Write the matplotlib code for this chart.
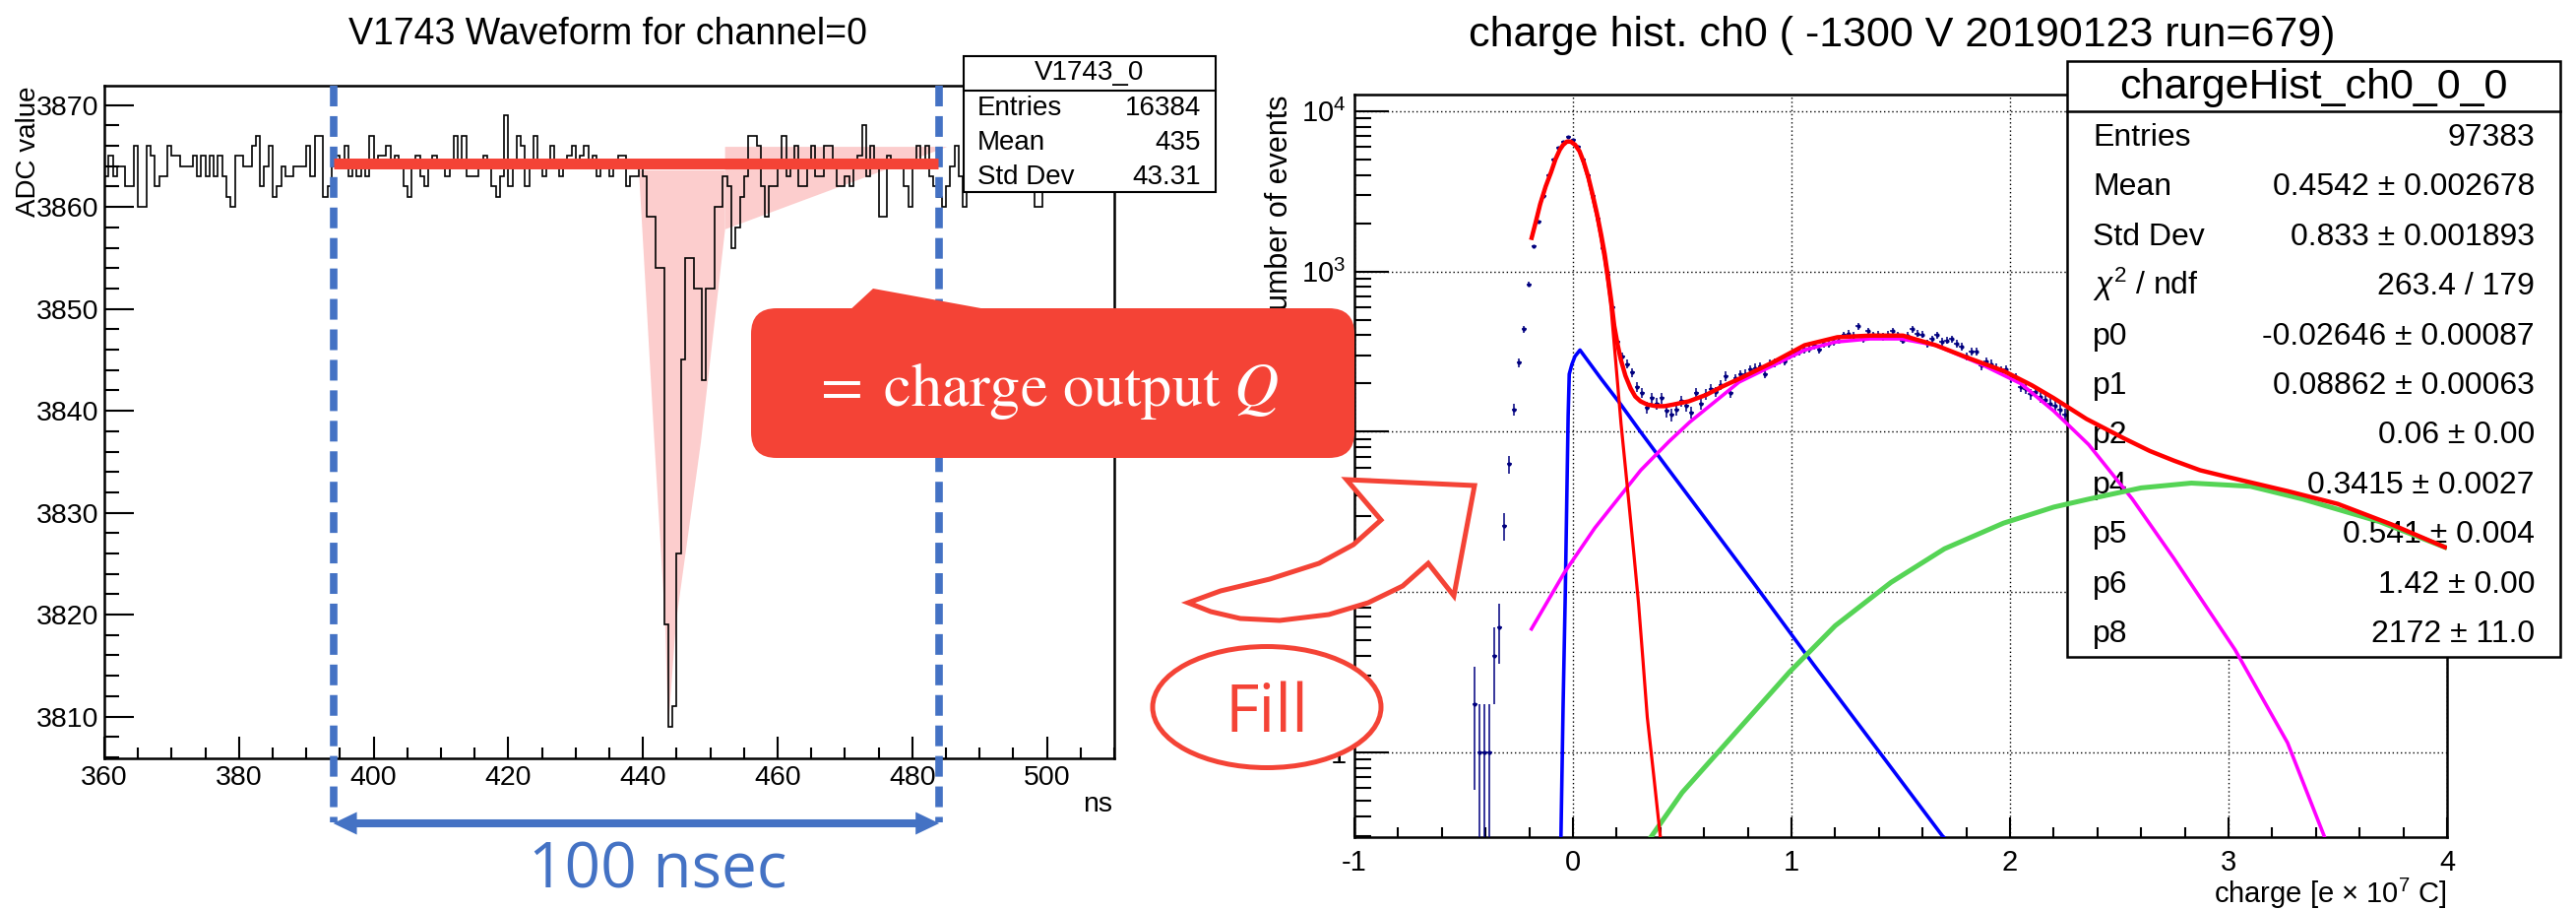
import numpy as np
import matplotlib
matplotlib.use("Agg")
import matplotlib.pyplot as plt
import matplotlib.transforms as mtransforms
from matplotlib.patches import Rectangle, Polygon, FancyBboxPatch, Ellipse
from matplotlib.lines import Line2D
from matplotlib.ticker import MultipleLocator, LogLocator, NullFormatter, FixedLocator, FixedFormatter

# ---------------------------------------------------------------- data
# left panel: V1743 waveform (ADC counts per 0.625 ns sample, 360 .. 510 ns)
wave_t0 = 360.0
wave_dt = 0.625
wave_adc = [
    3863, 3865, 3863, 3864, 3864, 3862, 3862, 3866, 3860, 3860,
    3866, 3865, 3862, 3863, 3863, 3866, 3865, 3865, 3864, 3864,
    3864, 3865, 3863, 3865, 3863, 3865, 3863, 3865, 3863, 3861,
    3860, 3865, 3865, 3864, 3864, 3866, 3867, 3862, 3864, 3866,
    3861, 3862, 3864, 3863, 3863, 3864, 3864, 3864, 3866, 3863,
    3867, 3867, 3861, 3862, 3864, 3865, 3864, 3866, 3863, 3864,
    3863, 3864, 3863, 3867, 3864, 3865, 3865, 3866, 3864, 3865,
    3864, 3862, 3861, 3864, 3865, 3863, 3862, 3864, 3865, 3864,
    3864, 3863, 3864, 3867, 3864, 3867, 3863, 3863, 3863, 3864,
    3865, 3864, 3862, 3861, 3863, 3869, 3862, 3864, 3867, 3866,
    3862, 3864, 3867, 3864, 3863, 3864, 3866, 3864, 3863, 3864,
    3865, 3866, 3864, 3865, 3866, 3864, 3865, 3863, 3864, 3864,
    3863, 3864, 3865, 3865, 3862, 3863, 3863, 3864, 3863, 3859,
    3859, 3854, 3854, 3819, 3809, 3811, 3826, 3845, 3855, 3855,
    3852, 3852, 3843, 3852, 3852, 3860, 3860, 3863, 3862, 3856,
    3858, 3861, 3863, 3867, 3867, 3866, 3862, 3859, 3862, 3862,
    3864, 3867, 3863, 3864, 3866, 3862, 3862, 3864, 3866, 3863,
    3863, 3866, 3866, 3864, 3862, 3862, 3863, 3862, 3864, 3865,
    3868, 3863, 3866, 3864, 3859, 3859, 3865, 3864, 3864, 3864,
    3862, 3860, 3864, 3866, 3864, 3866, 3863, 3862, 3861, 3860,
    3862, 3864, 3866, 3863, 3860, 3863, 3864, 3865, 3864, 3863,
    3865, 3864, 3866, 3864, 3863, 3864, 3865, 3863, 3864, 3862,
    3863, 3860, 3860, 3863, 3865, 3864, 3863, 3864, 3866, 3864,
    3863, 3865, 3864, 3864, 3863, 3865, 3864, 3864, 3863, 3864,
]
wave_xlim = (360, 510)
wave_ylim = (3805.9, 3871.9)

window_ns = [394.0, 484.0]          # integration window (blue dashed lines)
baseline_adc = 3864.3               # red baseline bar
pulse_shade_ns = [439.4, 452.2, 452.2, 448.6, 444.9, 443.75, 443.3, 441.7]
pulse_shade_adc = [3863.6, 3863.6, 3857.8, 3836.9, 3819.2, 3808.8, 3819.2, 3836.9]
tail_shade_ns = [452.2, 485.2, 452.2]
tail_shade_adc = [3865.9, 3865.9, 3857.8]

left_title = "V1743 Waveform for channel=0"
left_stats_name = "V1743_0"
left_stats_labels = ["Entries", "Mean", "Std Dev"]
left_stats_values = ["16384", "435", "43.31"]

# right panel: charge histogram (bin width 0.0225, bins counted from -1)
charge_bin_width = 0.0225
charge_first_bin = 24
charge_counts = [
    2, 1, 1, 1, 4, 6, 26, 63, 138, 270,
    437, 830, 1430, 2040, 2950, 3980, 5000, 5900, 6450, 6900,
    6600, 6000, 5000, 4000, 2950, 2150, 1400, 950, 600, 365,
    295, 265, 235, 190, 175, 142, 162, 150, 162, 135,
    128, 138, 155, 145, 132, 175, 150, 172, 185, 178,
    195, 222, 175, 215, 228, 230, 245, 250, 255, 230,
    265, 270, 280, 275, 300, 310, 318, 325, 330, 345,
    325, 355, 355, 362, 372, 400, 410, 398, 455, 380,
    425, 400, 405, 392, 405, 425, 400, 372, 398, 435,
    410, 405, 355, 380, 400, 365, 372, 380, 355, 340,
    295, 318, 315, 258, 275, 265, 250, 240, 245, 215,
    218, 190, 185, 172, 178, 165, 158, 150, 145, 138,
    128, 118, 120, 112, 125, 114, 108, 104, 99, 102,
    93, 95, 88, 86, 90, 80, 78, 74, 76, 70,
    68, 71, 64, 66, 61, 60, 63, 57, 58, 55,
    56, 52, 54, 51, 53, 49, 48, 50, 46, 47,
    44, 45, 43, 44, 41, 42, 40, 41, 38, 39,
    37, 36, 37, 34, 35, 33, 35, 32, 31, 32,
    30, 29, 30, 27, 28, 26, 27, 25, 24, 25,
    23, 22, 23, 21, 20, 21, 19, 19,
]

# fit curves (x, log10 of number of events)
total_fit_x = [-0.189, -0.17, -0.15, -0.125, -0.10, -0.08, -0.06, -0.045, -0.028, -0.01,
               0.01, 0.03, 0.05, 0.07, 0.09, 0.11, 0.129, 0.145, 0.159, 0.175,
               0.189, 0.205, 0.219, 0.24, 0.264, 0.285, 0.309, 0.34, 0.38, 0.42,
               0.459, 0.53, 0.609, 0.68, 0.76, 0.91, 1.06, 1.21, 1.36, 1.51,
               1.66, 1.81, 1.97, 2.10, 2.20, 2.35, 2.52, 2.64, 2.75, 2.87, 2.99,
               3.13, 3.27, 3.50, 3.75, 3.99]
total_fit_log = [3.21, 3.31, 3.42, 3.53, 3.62, 3.70, 3.76, 3.79, 3.81, 3.81,
                 3.79, 3.75, 3.68, 3.59, 3.48, 3.36, 3.23, 3.11, 2.98, 2.82,
                 2.66, 2.54, 2.45, 2.35, 2.27, 2.22, 2.19, 2.17, 2.16, 2.16,
                 2.17, 2.19, 2.23, 2.28, 2.33, 2.43, 2.54, 2.59, 2.60, 2.60,
                 2.54, 2.46, 2.38, 2.29, 2.21, 2.08, 1.96, 1.88, 1.82, 1.76, 1.72,
                 1.675, 1.63, 1.55, 1.42, 1.28]
pedestal_x = [-0.189, -0.17, -0.15, -0.125, -0.10, -0.08, -0.06, -0.045, -0.028, -0.01,
              0.01, 0.03, 0.05, 0.07, 0.09, 0.11, 0.129, 0.145, 0.159, 0.174,
              0.195, 0.22, 0.242, 0.26, 0.28, 0.30, 0.32, 0.34, 0.37, 0.40]
pedestal_log = [3.21, 3.31, 3.42, 3.53, 3.62, 3.70, 3.76, 3.79, 3.81, 3.81,
                3.79, 3.75, 3.67, 3.58, 3.46, 3.34, 3.20, 3.07, 2.94, 2.78,
                2.45, 2.05, 1.75, 1.50, 1.22, 0.93, 0.58, 0.22, -0.15, -0.53]
blue_fit_x = [-0.055, -0.045, -0.035, -0.028, -0.022, -0.017, -0.005, 0.009, 0.032,
              0.129, 0.219, 0.309, 0.429, 0.55, 0.83, 1.10, 1.42, 1.69, 1.72]
blue_fit_log = [-0.53, 0.30, 1.00, 1.60, 2.10, 2.36, 2.42, 2.47, 2.51,
                2.33, 2.17, 2.00, 1.78, 1.56, 1.05, 0.55, -0.03, -0.52, -0.56]
magenta_fit_x = [-0.19, -0.04, 0.10, 0.24, 0.31, 0.44, 0.534, 0.76, 1.06, 1.20, 1.36,
                 1.50, 1.66, 1.87, 2.05, 2.20, 2.36, 2.56, 2.75, 3.03, 3.27, 3.44]
magenta_fit_log = [0.77, 1.12, 1.40, 1.64, 1.76, 1.94, 2.06, 2.31, 2.51, 2.56, 2.58,
                   2.58, 2.54, 2.42, 2.30, 2.13, 1.92, 1.58, 1.21, 0.64, 0.06, -0.53]
green_fit_x = [0.356, 0.50, 0.67, 0.99, 1.20, 1.455, 1.70, 1.97, 2.20, 2.36, 2.60,
               2.83, 3.10, 3.34, 3.69, 3.99]
green_fit_log = [-0.53, -0.25, 0.01, 0.50, 0.79, 1.06, 1.27, 1.43, 1.53, 1.58, 1.65,
                 1.68, 1.66, 1.58, 1.44, 1.28]

charge_xlim = (-1, 4)
charge_ylim = (0.296, 12700)
charge_yticks = [1, 10, 100, 1000, 10000]
charge_yticklabels = ["1", "10", r"$10^{2}$", r"$10^{3}$", r"$10^{4}$"]

right_title = "charge hist. ch0 ( -1300 V 20190123 run=679)"
right_stats_name = "chargeHist_ch0_0_0"
right_stats_labels = ["Entries", "Mean", "Std Dev", r"$\chi^{2}$ / ndf", "p0", "p1",
                      "p2", "p4", "p5", "p6", "p8"]
right_stats_values = ["97383", "0.4542 \u00b1 0.002678", "0.833 \u00b1 0.001893",
                      "263.4 / 179", "-0.02646 \u00b1 0.00087", "0.08862 \u00b1 0.00063",
                      "0.06 \u00b1 0.00", "0.3415 \u00b1 0.0027", "0.541 \u00b1 0.004",
                      "1.42 \u00b1 0.00", "2172 \u00b1 11.0"]

# ---------------------------------------------------------------- style
W, H = 2617, 924
plt.rcParams['font.family'] = ['Liberation Sans', 'DejaVu Sans']
plt.rcParams['axes.unicode_minus'] = False
plt.rcParams['mathtext.fontset'] = 'custom'
plt.rcParams['mathtext.rm'] = 'Liberation Sans'
plt.rcParams['mathtext.it'] = 'Liberation Sans:italic'
plt.rcParams['mathtext.bf'] = 'Liberation Sans:bold'

RED = '#F44336'
BLUE = '#4472C4'
NAVY = '#00007F'
PINK = '#FCCDCD'

fig = plt.figure(figsize=(W / 100, H / 100), dpi=100)


def frac(x0, y0, x1, y1):
    return [x0 / W, 1 - y1 / H, (x1 - x0) / W, (y1 - y0) / H]


axL = fig.add_axes(frac(106, 87, 1132, 770))
axR = fig.add_axes(frac(1376, 96, 2486, 850))
axO = fig.add_axes([0, 0, 1, 1], zorder=10)
axO.set_xlim(0, W)
axO.set_ylim(H, 0)
axO.axis('off')
axO.patch.set_alpha(0)
PX = axO.transData

# ---------------------------------------------------------------- left panel
edges = wave_t0 + wave_dt * np.arange(len(wave_adc) + 1)
axL.fill(pulse_shade_ns, pulse_shade_adc, color=PINK, lw=0, zorder=1.5)
axL.fill(tail_shade_ns, tail_shade_adc, color=PINK, lw=0, zorder=1.5)
axL.stairs(wave_adc, edges, baseline=None, color='black', lw=1.2, zorder=3)
axL.set_xlim(*wave_xlim)
axL.set_ylim(*wave_ylim)
axL.xaxis.set_major_locator(MultipleLocator(20))
axL.xaxis.set_minor_locator(MultipleLocator(5))
axL.yaxis.set_major_locator(MultipleLocator(10))
axL.yaxis.set_minor_locator(MultipleLocator(2))
axL.tick_params(axis='both', which='both', direction='in', width=1.5, labelsize=20.5)
axL.tick_params(axis='y', which='major', length=21.6, pad=4.3)
axL.tick_params(axis='y', which='minor', length=10.8)
axL.tick_params(axis='x', which='major', length=15.8, pad=5)
axL.tick_params(axis='x', which='minor', length=7.9)
for s in axL.spines.values():
    s.set_linewidth(1.8)

blendL = mtransforms.blended_transform_factory(axL.transData, axL.transAxes)
for xw in window_ns:
    axL.plot([xw, xw], [1.0, -0.095], transform=blendL, color=BLUE, lw=5.5,
             ls=(0, (2.75, 1.3)), clip_on=False, zorder=4)
axL.plot([window_ns[0] + 0.1, window_ns[1] - 0.2], [baseline_adc, baseline_adc],
         color=RED, lw=7.9, solid_capstyle='butt', clip_on=False, zorder=5)

# stats box (left)
axL.add_artist(Rectangle((979, 57), 256, 138, transform=PX, fc='white', ec='black',
                         lw=1.5, zorder=6, clip_on=False))
axL.add_artist(Line2D([979, 1235], [92, 92], transform=PX, color='black', lw=1.5,
                      zorder=6.5, clip_on=False))
axL.text(1107, 81, left_stats_name, transform=PX, ha='center', va='baseline',
         fontsize=20, zorder=7)
for k, (lab, val) in enumerate(zip(left_stats_labels, left_stats_values)):
    yb = 117 + 35 * k
    axL.text(993, yb, lab, transform=PX, ha='left', va='baseline', fontsize=20, zorder=7)
    axL.text(1220, yb, val, transform=PX, ha='right', va='baseline', fontsize=20, zorder=7)

# ---------------------------------------------------------------- right panel
counts = np.array(charge_counts, dtype=float)
idx = np.arange(charge_first_bin, charge_first_bin + len(counts))
centers = -1.0 + (idx + 0.5) * charge_bin_width
err = np.sqrt(counts)
low = np.where(counts - err > 0, err, counts - 1e-3)
axR.errorbar(centers, counts, yerr=[low, err], xerr=charge_bin_width / 2, fmt='o',
             ms=2.0, color=NAVY, ecolor=NAVY, elinewidth=1.1, capsize=0, zorder=3)

axR.plot(blue_fit_x, 10 ** np.array(blue_fit_log), color='#0000FF', lw=2.6, zorder=5)
axR.plot(magenta_fit_x, 10 ** np.array(magenta_fit_log), color='#FF00FF', lw=2.6, zorder=5)
axR.plot(green_fit_x, 10 ** np.array(green_fit_log), color='#55D455', lw=3.6, zorder=5)
axR.plot(pedestal_x, 10 ** np.array(pedestal_log), color='#FF0000', lw=2.3, zorder=5.2)
axR.plot(total_fit_x, 10 ** np.array(total_fit_log), color='#FF0000', lw=3.2, zorder=5.3)

axR.set_yscale('log')
axR.set_xlim(*charge_xlim)
axR.set_ylim(*charge_ylim)
axR.xaxis.set_major_locator(MultipleLocator(1))
axR.xaxis.set_minor_locator(MultipleLocator(0.2))
axR.yaxis.set_major_locator(FixedLocator(charge_yticks))
axR.yaxis.set_major_formatter(FixedFormatter(charge_yticklabels))
axR.yaxis.set_minor_locator(LogLocator(base=10, subs=np.arange(2, 10)))
axR.yaxis.set_minor_formatter(NullFormatter())
axR.grid(True, which='major', ls=(0, (1, 2)), color='black', lw=1.0)
axR.tick_params(axis='both', which='both', direction='in', width=1.5, labelsize=21)
axR.tick_params(axis='y', which='major', length=25, pad=6)
axR.tick_params(axis='y', which='minor', length=12)
axR.tick_params(axis='x', which='major', length=14.4, pad=9)
axR.tick_params(axis='x', which='minor', length=7.2)
for s in axR.spines.values():
    s.set_linewidth(1.8)

# stats box (right)
axR.add_artist(Rectangle((2100, 62), 501, 605, transform=PX, fc='white', ec='black',
                         lw=1.8, zorder=4, clip_on=False))
axR.add_artist(Line2D([2100, 2601], [113, 113], transform=PX, color='black', lw=1.8,
                      zorder=4.1, clip_on=False))
axR.text(2350, 100, right_stats_name, transform=PX, ha='center', va='baseline',
         fontsize=31, zorder=4.2)
for k, (lab, val) in enumerate(zip(right_stats_labels, right_stats_values)):
    yb = 148 + 50.4 * k
    axR.text(2126, yb, lab, transform=PX, ha='left', va='baseline', fontsize=23, zorder=4.2)
    axR.text(2575, yb, val, transform=PX, ha='right', va='baseline', fontsize=23, zorder=4.2)

# ---------------------------------------------------------------- titles / labels
axO.text(617, 45, left_title, ha='center', va='baseline', fontsize=27, zorder=1)
axO.text(1932, 47, right_title, ha='center', va='baseline', fontsize=31, zorder=1)
axO.text(29, 87, 'ADC value', rotation=90, ha='center', va='top', fontsize=20, zorder=1)
axO.text(1130, 817, 'ns', ha='right', va='center', fontsize=20.5, zorder=1)
axO.text(1300, 97, 'number of events', rotation=90, ha='center', va='top', fontsize=22,
         zorder=1)
axO.text(2486, 907, r'charge [e $\times$ 10$^{7}$ C]', ha='right', va='center',
         fontsize=21, zorder=1)

# ---------------------------------------------------------------- annotations
# double-headed arrow under the window
xa = PX.inverted().transform(axL.transData.transform((window_ns[0], baseline_adc)))[0]
xb = PX.inverted().transform(axL.transData.transform((window_ns[1], baseline_adc)))[0]
ya = 836
hl, hw = 24, 11.5
axO.add_line(Line2D([xa + hl - 2, xb - hl + 2], [ya, ya], color=BLUE, lw=5.8,
                    solid_capstyle='butt', zorder=4))
axO.add_patch(Polygon([(xa, ya), (xa + hl, ya - hw), (xa + hl, ya + hw)], closed=True,
                      fc=BLUE, ec='none', zorder=4))
axO.add_patch(Polygon([(xb, ya), (xb - hl, ya - hw), (xb - hl, ya + hw)], closed=True,
                      fc=BLUE, ec='none', zorder=4))
axO.text((xa + xb) / 2 + 22, 902, '100 nsec', ha='center', va='baseline', fontsize=46,
         color=BLUE, family=['Open Sans', 'DejaVu Sans'], zorder=4)

# callout
axO.add_patch(FancyBboxPatch((763, 313), 613, 152, boxstyle='round,pad=0,rounding_size=26',
                             fc=RED, ec='none', zorder=5))
axO.add_patch(Polygon([(860, 318), (887, 293), (1024, 318)], closed=True, fc=RED,
                      ec='none', zorder=5))
axO.text(1062, 412, r'$=\;\mathrm{charge\ output}\ Q$', color='white', fontsize=45,
         ha='center', va='baseline', math_fontfamily='stix', zorder=6)

# curved hollow arrow
arrow_pts = [(1207, 612), (1240, 600), (1290, 588), (1340, 572), (1375, 553), (1403, 528),
             (1368, 487), (1498, 493), (1477, 605), (1451, 572),
             (1425, 595), (1390, 612), (1350, 624), (1300, 630), (1260, 628), (1230, 621)]
axO.add_patch(Polygon(arrow_pts, closed=True, fc='white', ec=RED, lw=3.6,
                      joinstyle='miter', zorder=5))

# "Fill" ellipse
axO.add_patch(Ellipse((1287, 718), 232, 123, fc='white', ec=RED, lw=3.6, zorder=5))
axO.text(1287, 743, 'Fill', ha='center', va='baseline', fontsize=48, color=RED,
         family=['Open Sans', 'DejaVu Sans'], zorder=6)

fig.savefig('out.png', dpi=100)
